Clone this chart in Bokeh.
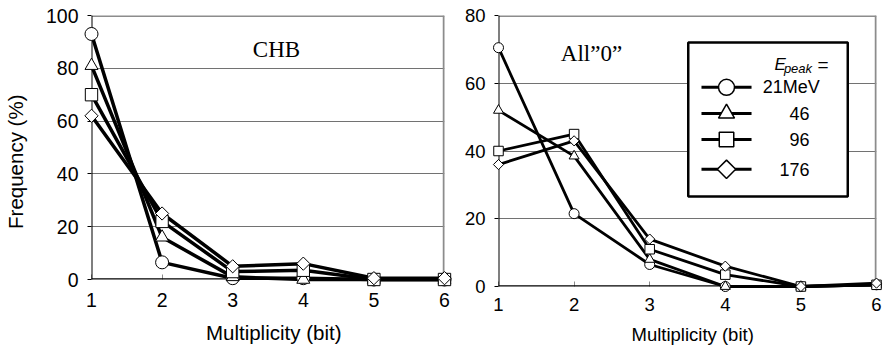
import math

from bokeh.plotting import figure
from bokeh.layouts import row
from bokeh.models import FixedTicker, Range1d, Span, Label, BoxAnnotation
from bokeh.embed import file_html
from bokeh.resources import INLINE

# Multiplicity bins (x axis) and peak energies of the four spectra
multiplicity = [1, 2, 3, 4, 5, 6]
energy_labels = ["21MeV", "46", "96", "176"]

# CHB pattern: frequency (%) per multiplicity
chb_21 = [93, 6.5, 0.5, 0.5, 0, 0]
chb_46 = [81, 16, 1, 0, 0, 0]
chb_96 = [70, 22, 3, 3.5, 0, 0]
chb_176 = [62, 25, 5, 6, 0.5, 0.5]

# All"0" pattern: frequency (%) per multiplicity
all0_21 = [70.5, 21.5, 6.5, 0, 0, 0.5]
all0_46 = [52, 38.5, 8, 0, 0, 0.5]
all0_96 = [40, 45, 11, 3.5, 0, 0.5]
all0_176 = [36, 43, 14, 6, 0, 1]

left_ticks = [0, 20, 40, 60, 80, 100]
right_ticks = [0, 20, 40, 60, 80]

SANS = "Liberation Sans"
SERIF = "Liberation Serif"
NBSP = "\u00a0"
MARKERS = ["circle", "triangle", "square", "square"]
ANGLES = [0, 0, 0, math.pi / 4]          # the diamond is a square turned by 45 degrees
SIZE_SCALE = [1.0, 1.0, 0.95, 0.72]


def make_panel(series, y_ticks, frame_w, frame_h, borders, font_px, title_px, line_w,
               marker_px, label_standoff, title_standoff):
    y_end = y_ticks[-1]
    left, right, top, bottom = borders
    p = figure(
        frame_width=frame_w, frame_height=frame_h,
        x_range=Range1d(multiplicity[0], multiplicity[-1]),
        y_range=Range1d(0, y_end),
        output_backend="svg", toolbar_location=None, title=None,
        min_border_left=left, min_border_right=right,
        min_border_top=top, min_border_bottom=bottom,
        background_fill_color="white", border_fill_color="white",
        outline_line_color=None,
    )
    p.xgrid.visible = False
    p.ygrid.ticker = FixedTicker(ticks=y_ticks[1:-1])
    p.ygrid.grid_line_color = "#727272"
    p.ygrid.grid_line_width = 1

    p.xaxis.ticker = FixedTicker(ticks=multiplicity)
    p.yaxis.ticker = FixedTicker(ticks=y_ticks)
    for ax in (p.xaxis[0], p.yaxis[0]):
        ax.axis_line_color = None
        ax.minor_tick_line_color = None
        ax.major_label_text_font = SANS
        ax.major_label_text_font_size = f"{font_px}px"
        ax.major_label_text_color = "black"
        ax.axis_label_text_font = SANS
        ax.axis_label_text_font_size = f"{title_px}px"
        ax.axis_label_text_font_style = "normal"
        ax.axis_label_text_color = "black"
    p.xaxis.major_tick_in = 5
    p.xaxis.major_tick_out = 0
    p.xaxis.major_tick_line_color = "#8a8a8a"
    p.xaxis.major_label_standoff = label_standoff
    # title sits a little right of the frame centre
    p.xaxis.axis_label = NBSP * 2 + "Multiplicity (bit)"
    p.xaxis.axis_label_standoff = title_standoff
    p.yaxis.major_tick_in = 0
    p.yaxis.major_tick_out = 4
    p.yaxis.major_tick_line_color = "black"
    p.yaxis.major_label_standoff = 9

    # frame: grey top/right border, black axis lines
    p.add_layout(Span(location=y_end, dimension="width", line_color="#8c8c8c", line_width=3))
    p.add_layout(Span(location=multiplicity[-1], dimension="height", line_color="#8c8c8c", line_width=3.5))
    p.add_layout(Span(location=0, dimension="width", line_color="black", line_width=2.5))
    p.add_layout(Span(location=multiplicity[0], dimension="height", line_color="black", line_width=2))

    for ys in series:
        p.line(multiplicity, ys, line_color="black", line_width=line_w, level="overlay")
    for ys, m, a, s in zip(series, MARKERS, ANGLES, SIZE_SCALE):
        p.scatter(multiplicity, ys, marker=m, angle=a, size=marker_px * s,
                  fill_color="white", line_color="black", line_width=1, level="overlay")
    return p


p1 = make_panel([chb_21, chb_46, chb_96, chb_176], left_ticks,
                353, 264, (90, 12, 15, 70), 19.5, 20.5, 3.5, 13, 13, 11)
# vertical title sits somewhat below the frame centre
p1.yaxis.axis_label = "Frequency (%)" + NBSP * 5
p1.yaxis.axis_label_standoff = 16
p1.add_layout(Label(x=3.62, y=87, text="CHB", text_font=SERIF, text_font_size="23px",
                    text_align="center", text_baseline="middle", text_color="black"))

p2 = make_panel([all0_21, all0_46, all0_96, all0_176], right_ticks,
                378, 271, (42, 9, 13, 65), 18.5, 18.5, 2.8, 10, 11, 10)
p2.add_layout(Label(x=2.23, y=68.8, text="All\u201d0\u201d", text_font=SERIF, text_font_size="23px",
                    text_align="center", text_baseline="middle", text_color="black"))

# Legend box inside the All"0" panel (placed in that panel's data units)
p2.add_layout(BoxAnnotation(left=3.51, right=5.62, bottom=26.6, top=72.0,
                            fill_color="white", fill_alpha=1.0,
                            line_color="black", line_width=2.5, line_alpha=1.0))
row_y = [58.8, 51.1, 43.4, 34.6]
key_x0, key_x1, key_mid = 3.685, 4.347, 4.016
label_right = [5.25, 5.115, 5.115, 5.115]
key_sizes = [16, 16, 14.5, 13]
for yy, m, a, s, lab, xr in zip(row_y, MARKERS, ANGLES, key_sizes, energy_labels, label_right):
    p2.line([key_x0, key_x1], [yy, yy], line_color="black", line_width=3, level="overlay")
    p2.scatter([key_mid], [yy], marker=m, angle=a, size=s, fill_color="white",
               line_color="black", line_width=1.5, level="overlay")
    p2.add_layout(Label(x=xr, y=yy, text=lab, text_font=SANS, text_font_size="18px",
                        text_align="right", text_baseline="middle", text_color="black",
                        level="overlay"))

# legend heading: E_peak =
p2.add_layout(Label(x=4.651, y=65.5, text="E", text_font=SANS, text_font_style="italic",
                    text_font_size="17px", text_baseline="alphabetic", text_color="black",
                    level="overlay"))
p2.add_layout(Label(x=4.775, y=64.4, text="peak", text_font=SANS, text_font_style="italic",
                    text_font_size="13px", text_baseline="alphabetic", text_color="black",
                    level="overlay"))
p2.add_layout(Label(x=5.22, y=65.5, text="=", text_font=SANS, text_color="black",
                    text_font_size="19px", text_baseline="alphabetic", level="overlay"))

layout = row(p1, p2)
open("out.html", "w").write(file_html(layout, INLINE))
